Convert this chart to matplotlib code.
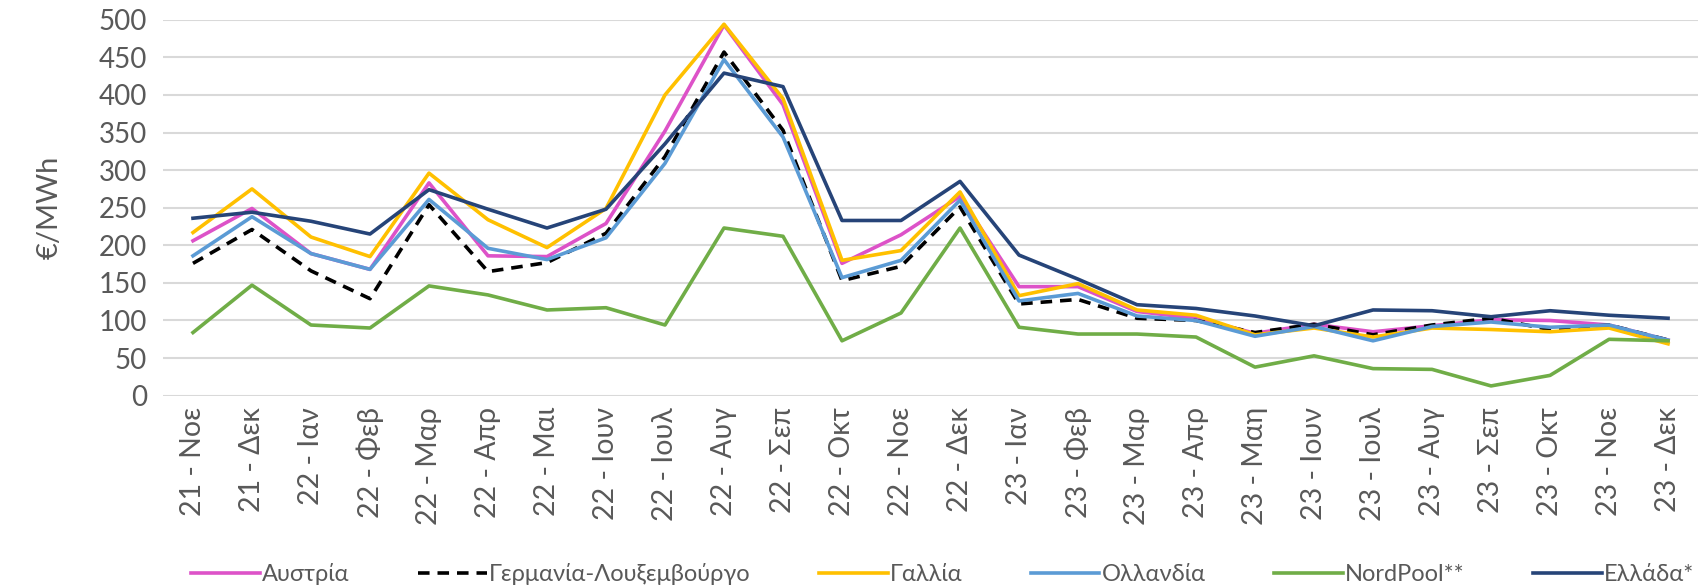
import numpy as np
import matplotlib.pyplot as plt

months = ["21 - Νοε", "21 - Δεκ", "22 - Ιαν", "22 - Φεβ", "22 - Μαρ", "22 - Απρ", "22 - Μαι",
          "22 - Ιουν", "22 - Ιουλ", "22 - Αυγ", "22 - Σεπ", "22 - Οκτ", "22 - Νοε", "22 - Δεκ",
          "23 - Ιαν", "23 - Φεβ", "23 - Μαρ", "23 - Απρ", "23 - Μαη", "23 - Ιουν", "23 - Ιουλ",
          "23 - Αυγ", "23 - Σεπ", "23 - Οκτ", "23 - Νοε", "23 - Δεκ"]

austria = [206, 249, 189, 168, 283, 186, 185, 229, 352, 493, 387, 176, 214, 265,
           145, 145, 112, 103, 83, 95, 85, 93, 101, 100, 94, 74]
germany = [176, 221, 166, 129, 254, 165, 177, 216, 318, 457, 353, 153, 172, 251,
           122, 128, 103, 100, 84, 95, 81, 94, 103, 88, 94, 74]
france = [217, 275, 211, 185, 296, 234, 197, 249, 400, 494, 395, 180, 193, 271,
          133, 149, 114, 107, 81, 90, 78, 90, 88, 85, 90, 69]
netherlands = [186, 238, 189, 168, 261, 196, 181, 210, 309, 447, 344, 157, 180, 260,
               126, 136, 106, 100, 79, 92, 73, 92, 98, 91, 94, 74]
nordpool = [84, 147, 94, 90, 146, 134, 114, 117, 94, 223, 212, 73, 110, 223,
            91, 82, 82, 78, 38, 53, 36, 35, 13, 27, 75, 73]
greece = [236, 244, 232, 215, 274, 248, 223, 248, 335, 429, 411, 233, 233, 285,
          187, 155, 121, 116, 106, 93, 114, 113, 105, 113, 107, 103]

plt.rcParams['font.family'] = ['Lato', 'DejaVu Sans']
grey = '#595959'

fig = plt.figure(figsize=(17.03, 5.85), dpi=100)
ax = fig.add_axes([0.096, 0.3236, 0.9008, 0.6427])

x = np.arange(len(months))
lw = 2.6
ax.plot(x, austria, color='#dd52c8', lw=lw, label='Αυστρία')
ax.plot(x, germany, color='black', lw=lw, ls=(0, (3.2, 2.2)), label='Γερμανία-Λουξεμβούργο')
ax.plot(x, france, color='#ffc000', lw=lw, label='Γαλλία')
ax.plot(x, netherlands, color='#5b9bd5', lw=lw, label='Ολλανδία')
ax.plot(x, nordpool, color='#70ad47', lw=lw, label='NordPool**')
ax.plot(x, greece, color='#264478', lw=lw, label='Ελλάδα*')

ax.set_xlim(-0.5, len(months) - 0.5)
ax.set_ylim(0, 500)
ax.set_yticks(np.arange(0, 501, 50))
ax.set_xticks(x)
ax.set_xticklabels(months, rotation=90)
ax.tick_params(axis='y', length=0, labelsize=20, labelcolor=grey, pad=12)
ax.tick_params(axis='x', length=0, labelsize=20.5, labelcolor=grey, pad=8)
ax.grid(axis='y', color='#d9d9d9', lw=1.5)
ax.set_axisbelow(True)
for s in ax.spines.values():
    s.set_visible(False)
ax.set_ylabel('€/MWh', fontsize=21, color=grey, labelpad=26)

ax.legend(loc='lower center', bbox_to_anchor=(0.508, -0.56), ncol=6, frameon=False,
          fontsize=17, labelcolor=grey, handlelength=2.9, handletextpad=0.1, columnspacing=2.9)

fig.savefig('out.png', dpi=100)
